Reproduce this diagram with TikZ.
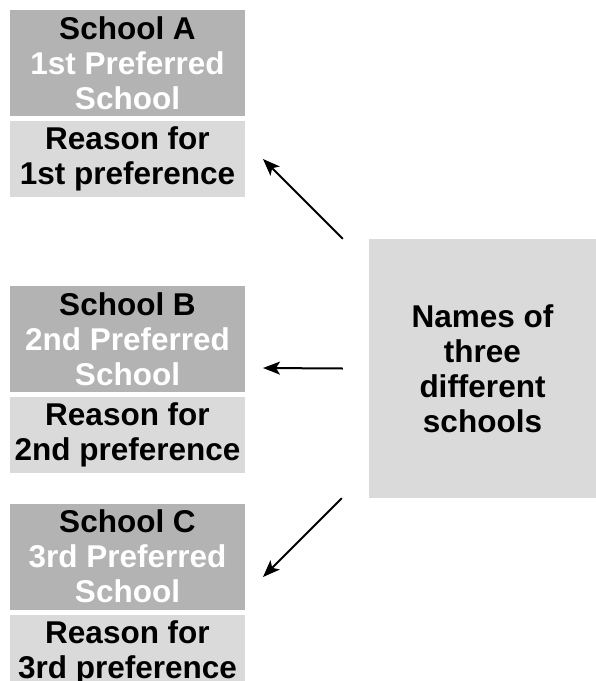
\documentclass[tikz,border=0pt]{standalone}
\usepackage{fontspec}
\setmainfont{Liberation Sans}
\usepackage{xcolor}
\usepackage{tikz}
\usetikzlibrary{arrows.meta}
\definecolor{boxdark}{RGB}{179,179,179}
\definecolor{boxlight}{RGB}{218,218,218}

\begin{document}
\begin{tikzpicture}[x=1pt, y=1pt,
    school/.style={fill=boxdark, minimum width=235pt, minimum height=106pt,
        inner sep=0pt, align=center, font=\fontsize{31.5}{35}\selectfont\bfseries},
    reason/.style={school, fill=boxlight, minimum height=76pt},
    prompt/.style={school, fill=boxlight, minimum width=227pt, minimum height=259pt},
    arr/.style={line width=2pt, -{Stealth[length=17pt, width=13pt, inset=4pt]}}]
    % Page frame
    \useasboundingbox (0,0) rectangle (596,-681);

    % First choice
    \node[school] (schoolA) at (127.5,-63) {School A\\\textcolor{white}{1st Preferred}\\\textcolor{white}{School}};
    \node[reason] (reasonA) at (127.5,-159) {Reason for\\1st preference};

    % Second choice
    \node[school] (schoolB) at (127.5,-339) {School B\\\textcolor{white}{2nd Preferred}\\\textcolor{white}{School}};
    \node[reason] (reasonB) at (127.5,-435) {Reason for\\2nd preference};

    % Third choice
    \node[school] (schoolC) at (127.5,-556.5) {School C\\\textcolor{white}{3rd Preferred}\\\textcolor{white}{School}};
    \node[reason] (reasonC) at (127.5,-653) {Reason for\\3rd preference};

    % Prompt box
    \node[prompt] (names) at (482.5,-368.5) {Names of\\three\\different\\schools};

    % Arrow tips
    \coordinate (tipA) at (263,-159);
    \coordinate (tipB) at (263,-368);
    \coordinate (tipC) at (263,-577);

    % Arrows
    \draw[arr] ([xshift=-26pt]names.north west) -- (tipA);
    \draw[arr] ([xshift=-26pt]names.west) -- (tipB);
    \draw[arr] ([xshift=-27pt]names.south west) -- (tipC);
\end{tikzpicture}
\end{document}
